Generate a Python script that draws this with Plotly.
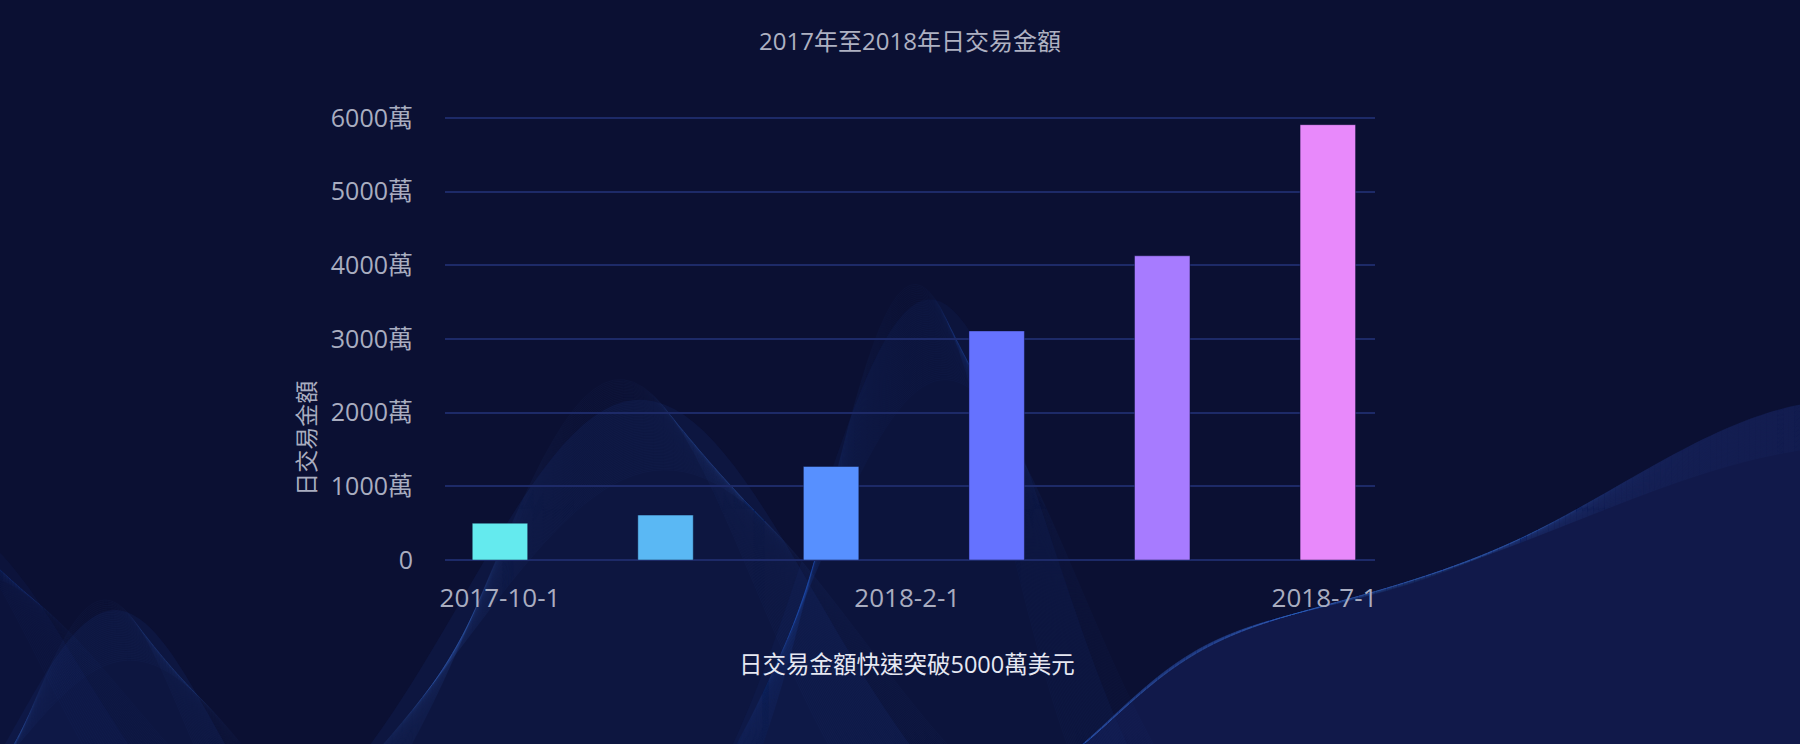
import base64
import numpy as np
import plotly.graph_objects as go

# ---------------- data ----------------
categories = ["2017-10-1", "2017-11-1", "2017-12-1", "2018-3-1", "2018-5-1", "2018-7-1"]
values = [500, 610, 1270, 3110, 4130, 5910]
bar_colors = ["#64eaee", "#5ab8f4", "#5790ff", "#6572ff", "#a77bff", "#e889fb"]
x_tick_pos = [0, 2.46, 4.98]
x_tick_labels = ["2017-10-1", "2018-2-1", "2018-7-1"]
y_tick_vals = [0, 1000, 2000, 3000, 4000, 5000, 6000]
y_tick_labels = ["0", "1000萬", "2000萬", "3000萬", "4000萬", "5000萬", "6000萬"]

title_text = "2017年至2018年日交易金額"
y_title = "日交易金額"
caption = "日交易金額快速突破5000萬美元"

# ---------------- layout geometry ----------------
W, H = 1800, 744
L, R, T, B = 445, 425, 118, 184
PW, PH = W - L - R, H - T - B

FONT = "Open Sans, Noto Sans CJK TC, Noto Sans CJK SC, sans-serif"
BG = "#0b1033"


# ---------------- decorative background waves (svg) ----------------
def right_base(xs, plateau):
    # smooth step from below the picture up to the plateau level
    s = 1 / (1 + np.exp(-(xs - 1110) / 55))
    return 820 - (820 - plateau) * s


def hill(xs, c, w, base, peak):
    return base - (base - peak) * np.exp(-((xs - c) / w) ** 2)


def path_d(xs, ys):
    return "M" + " L".join(f"{x:.1f},{y:.1f}" for x, y in zip(xs, ys))


def family(n, fn, color, op, x0=0, x1=W):
    xs = np.linspace(x0, x1, 180)
    out = []
    for i in range(n):
        t = i / max(n - 1, 1)
        ys = fn(xs, t)
        out.append(f'<path d="{path_d(xs, ys)}" fill="none" stroke="{color}" '
                   f'stroke-opacity="{op}" stroke-width="0.8"/>')
    return out


def fill(fn, color, op, x0=0, x1=W):
    xs = np.linspace(x0, x1, 180)
    ys = fn(xs)
    d = f"M{x0},{H + 80} " + " ".join(f"L{x:.1f},{y:.1f}" for x, y in zip(xs, ys)) + f" L{x1},{H + 80} Z"
    return f'<path d="{d}" fill="{color}" fill-opacity="{op}" stroke="none"/>'


def right_wave(xs, t=0.0):
    plateau = 620 + 14 * t
    b = right_base(xs, plateau)
    return b - (plateau - (400 + 45 * t)) * np.exp(-((xs - (1850 + 20 * t)) / (330 + 80 * t)) ** 2)


parts = []
parts.append(fill(lambda xs: right_wave(xs, 0.0), "#15205a", 0.6, 800, W))
parts.append(fill(lambda xs: hill(xs, 640, 250, 900, 400), "#132561", 0.30))
parts.append(fill(lambda xs: hill(xs, 930, 170, 900, 300), "#132561", 0.22, 400, 1500))
parts.append(fill(lambda xs: hill(xs, 115, 140, 900, 610), "#132561", 0.30, 0, 520))
parts.append(fill(lambda xs: hill(xs, -60, 200, 900, 520), "#132561", 0.20, 0, 520))

parts += family(60, lambda xs, t: hill(xs, 620 + 45 * t, 190 + 90 * t, 900, 380 + 90 * t), "#3f62c0", 0.06)
parts += family(55, lambda xs, t: hill(xs, 915 + 30 * t, 130 + 60 * t, 900, 285 + 95 * t), "#3f62c0", 0.05, 400, 1500)
parts += family(55, right_wave, "#3f62c0", 0.06, 800, W)
parts += family(35, lambda xs, t: hill(xs, 105 + 25 * t, 110 + 60 * t, 900, 600 + 60 * t), "#3f62c0", 0.06, 0, 520)
parts += family(35, lambda xs, t: hill(xs, -80 + 40 * t, 170 + 70 * t, 900, 510 + 60 * t), "#3f62c0", 0.05, 0, 520)

svg = (f'<svg xmlns="http://www.w3.org/2000/svg" width="{W}" height="{H}" viewBox="0 0 {W} {H}">'
       + "".join(parts) + "</svg>")
svg_uri = "data:image/svg+xml;base64," + base64.b64encode(svg.encode()).decode()

# ---------------- figure ----------------
fig = go.Figure()
fig.add_trace(go.Bar(
    x=categories,
    y=values,
    width=0.335,
    marker=dict(color=bar_colors, line=dict(color="rgba(10,16,50,0.45)", width=1)),
    hoverinfo="x+y",
))

TICK_COLOR = "#a9adc0"
fig.update_layout(
    width=W, height=H,
    margin=dict(l=L, r=R, t=T - 1, b=B),
    paper_bgcolor=BG,
    plot_bgcolor="rgba(0,0,0,0)",
    showlegend=False,
    font=dict(family=FONT, color=TICK_COLOR),
    title=dict(text=title_text, x=0.5, xref="paper", xanchor="center",
               y=1 - 42 / H, yref="container", yanchor="middle",
               font=dict(size=24, color="#aeb1c2", family=FONT)),
    xaxis=dict(type="category", range=[-0.332, 5.285],
               tickmode="array", tickvals=x_tick_pos, ticktext=x_tick_labels,
               ticks="outside", ticklen=15, tickcolor="rgba(0,0,0,0)",
               showgrid=False, zeroline=False, showline=False,
               tickfont=dict(size=26, color=TICK_COLOR, family=FONT)),
    yaxis=dict(range=[0, 6014], tickmode="array", tickvals=y_tick_vals, ticktext=y_tick_labels,
               ticks="outside", ticklen=26, tickcolor="rgba(0,0,0,0)",
               showgrid=True, gridcolor="#1d2a68", gridwidth=1.5,
               zeroline=True, zerolinecolor="#1d2a68", zerolinewidth=1.5,
               showline=False,
               tickfont=dict(size=25, color=TICK_COLOR, family=FONT)),
    images=[dict(source=svg_uri, xref="paper", yref="paper",
                 x=-L / PW, y=1 + T / PH, sizex=W / PW, sizey=H / PH,
                 xanchor="left", yanchor="top", sizing="stretch", layer="below")],
    annotations=[
        dict(text=y_title, xref="paper", yref="paper", x=(306 - L) / PW, y=(H - B - 439) / PH,
             showarrow=False, textangle=-90, xanchor="center", yanchor="middle",
             font=dict(size=23, color=TICK_COLOR, family=FONT)),
        dict(text=caption, xref="paper", yref="paper", x=0.497, y=(H - B - 664) / PH,
             showarrow=False, xanchor="center", yanchor="middle",
             font=dict(size=23.5, color="#e6e8f2", family=FONT)),
    ],
)

fig.write_html("out.html", config={"displayModeBar": False},
               post_script="document.body.style.margin='0';document.body.style.overflow='hidden';")
